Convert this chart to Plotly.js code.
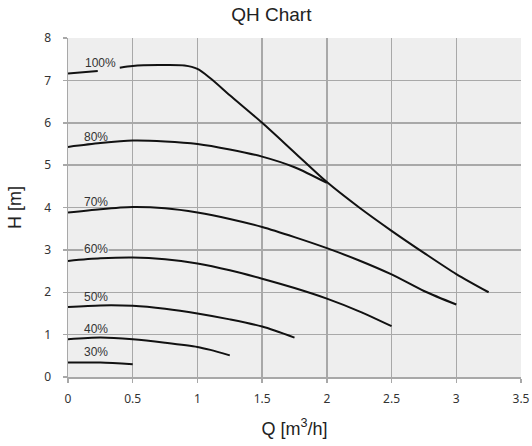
<!DOCTYPE html>
<html><head><meta charset="utf-8">
<script src="https://cdn.plot.ly/plotly-3.0.1.min.js"></script>
<style>html,body{margin:0;padding:0;background:#fff}#chart{width:532px;height:446px}</style>
</head><body><div id="chart"></div>
<script>
// Flow Q [m3/h] and head H [m] per speed curve
const q100 = [0, 0.23, null, 0.40, 0.5, 0.7, 0.9, 1.0, 1.1, 1.25, 1.5, 1.75, 2.0, 2.25, 2.5, 2.75, 3.0, 3.25];
const h100 = [7.16, 7.22, null, 7.30, 7.34, 7.36, 7.35, 7.27, 7.05, 6.65, 6.0, 5.3, 4.6, 4.0, 3.45, 2.93, 2.43, 2.0];
const q80 = [0, 0.25, 0.5, 0.75, 1.0, 1.25, 1.5, 1.75, 2.0];
const h80 = [5.43, 5.52, 5.58, 5.56, 5.5, 5.37, 5.2, 4.95, 4.58];
const q70 = [0, 0.25, 0.5, 0.75, 1.0, 1.25, 1.5, 1.75, 2.0, 2.25, 2.5, 2.75, 3.0];
const h70 = [3.88, 3.96, 4.01, 3.98, 3.88, 3.73, 3.54, 3.3, 3.04, 2.75, 2.42, 2.03, 1.71];
const q60 = [0, 0.25, 0.5, 0.75, 1.0, 1.25, 1.5, 1.75, 2.0, 2.25, 2.5];
const h60 = [2.74, 2.8, 2.82, 2.78, 2.68, 2.52, 2.32, 2.1, 1.85, 1.55, 1.2];
const q50 = [0, 0.25, 0.5, 0.75, 1.0, 1.25, 1.5, 1.75];
const h50 = [1.65, 1.69, 1.68, 1.61, 1.5, 1.36, 1.19, 0.93];
const q40 = [0, 0.25, 0.5, 0.75, 1.0, 1.1, 1.25];
const h40 = [0.89, 0.93, 0.89, 0.81, 0.71, 0.64, 0.51];
const q30 = [0, 0.25, 0.5];
const h30 = [0.34, 0.34, 0.3];

const curveNames = ['100%', '80%', '70%', '60%', '50%', '40%', '30%'];
const curveQ = [q100, q80, q70, q60, q50, q40, q30];
const curveH = [h100, h80, h70, h60, h50, h40, h30];
const labelQ = [0.25, 0.22, 0.22, 0.22, 0.22, 0.22, 0.22];
const labelH = [7.41, 5.67, 4.14, 3.03, 1.89, 1.14, 0.58];

const traces = curveNames.map((n, i) => ({
  type: 'scatter', mode: 'lines', name: n,
  x: curveQ[i], y: curveH[i], connectgaps: false,
  line: {color: '#111', width: 2, shape: 'spline', smoothing: 0.8},
  hoverinfo: 'skip'
}));

const annotations = curveNames.map((n, i) => ({
  x: labelQ[i], y: labelH[i], xref: 'x', yref: 'y', text: n, showarrow: false,
  font: {family: '"Liberation Sans Narrow", "Arial Narrow", "Liberation Sans", sans-serif', size: 12, color: '#333'},
  bgcolor: n === '60%' ? '#eeeeee' : 'rgba(0,0,0,0)', borderpad: 0
}));

const tickFont = {family: '"Noto Sans", "Open Sans", sans-serif', size: 12, color: '#333'};

const layout = {
  width: 532, height: 446,
  margin: {l: 68, r: 11, t: 38, b: 69},
  paper_bgcolor: '#ffffff', plot_bgcolor: '#eeeeee',
  showlegend: false,
  title: {text: 'QH Chart', x: 0.51, xanchor: 'center', y: 0.968, yanchor: 'middle',
    font: {family: '"Liberation Sans", Arial, sans-serif', size: 19, color: '#222'}},
  xaxis: {
    range: [0, 3.5], dtick: 0.5, tick0: 0, showgrid: true, gridcolor: '#a8a8a8', gridwidth: 1.5,
    zeroline: false, showline: true, linecolor: '#a8a8a8', linewidth: 1.5,
    ticks: 'outside', ticklen: 4, tickcolor: '#a8a8a8', tickwidth: 1.5,
    ticklabelstandoff: 6,
    tickfont: tickFont,
    title: {text: 'Q [m<sup>3</sup>/h]', standoff: 16,
      font: {family: '"Liberation Sans", Arial, sans-serif', size: 18, color: '#222'}},
    fixedrange: true
  },
  yaxis: {
    range: [0, 8], dtick: 1, showgrid: true, gridcolor: '#a8a8a8', gridwidth: 1.5,
    zeroline: false, showline: true, linecolor: '#a8a8a8', linewidth: 1.5,
    ticks: 'outside', ticklen: 4, tickcolor: '#a8a8a8', tickwidth: 1.5,
    ticklabelstandoff: 9,
    tickfont: tickFont,
    title: {text: 'H [m]', standoff: 18,
      font: {family: '"Liberation Sans", Arial, sans-serif', size: 18, color: '#222'}},
    fixedrange: true
  },
  annotations: annotations
};

Plotly.newPlot('chart', traces, layout, {displayModeBar: false, staticPlot: true});
</script>
</body></html>
